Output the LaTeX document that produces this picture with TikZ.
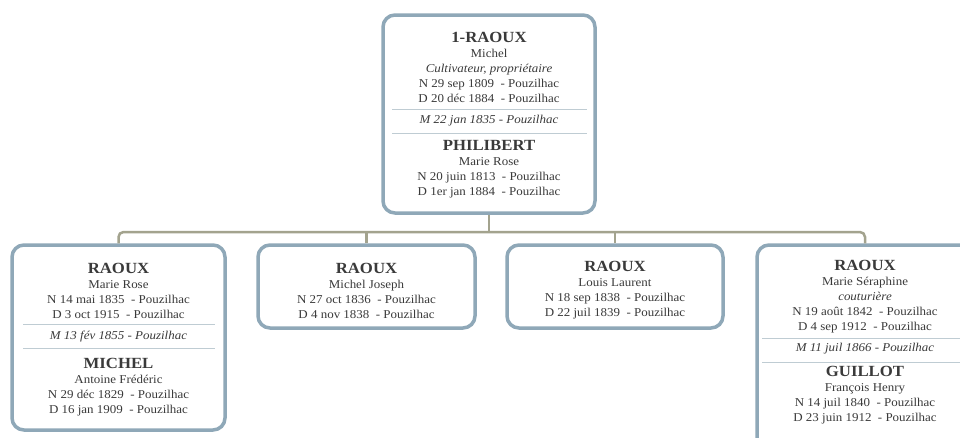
\documentclass[tikz,border=0pt]{standalone}
\usepackage{fontspec}
\setmainfont[FakeStretch=1.08]{Liberation Serif}
\definecolor{boxc}{HTML}{8FA8B8}
\definecolor{connc}{HTML}{A3A38E}
\definecolor{sepc}{HTML}{BFCCD3}
\definecolor{txtc}{HTML}{3A3A3A}
\newcommand{\surn}[1]{{\fontsize{15.5}{15}\selectfont\bfseries #1}}
\tikzset{
  famb/.style={draw=boxc, line width=3.5pt, rounded corners=12pt, fill=white, inner sep=0pt},
  conn/.style={draw=connc, line width=2.5pt, rounded corners=5pt},
  sepl/.style={draw=sepc, line width=0.8pt},
  txt/.style={text=txtc, align=center, inner sep=0pt, font=\fontsize{12}{15}\selectfont},
  marr/.style={text=txtc, inner sep=0pt, font=\fontsize{12}{15}\selectfont\itshape}
}
\begin{document}
\begin{tikzpicture}[x=1pt,y=-1pt]
\useasboundingbox (0,0) rectangle (960,437);
\clip (0,0) rectangle (960,437);
\fill[white] (0,0) rectangle (960,437);
% boxes
\node[famb, minimum width=212pt, minimum height=198pt] (top) at (489,114) {};
\node[famb, minimum width=213pt, minimum height=185pt] (b1) at (118.5,337.5) {};
\node[famb, minimum width=217pt, minimum height=83pt] (b2) at (366.5,286.5) {};
\node[famb, minimum width=216pt, minimum height=83pt] (b3) at (615,286.5) {};
\node[famb, minimum width=216pt, minimum height=220pt] (b4) at (865,355) {};
% connectors
\coordinate (bar) at (489,232);
\draw[conn] (top.south) -- (bar);
\draw[conn] (b1.north) |- (bar) -| (b4.north);
\draw[conn] (b2.north) -- (b2.north |- bar);
\draw[conn] (b3.north) -- (b3.north |- bar);
% top box
\node[txt] (t1) at (489,67) {\surn{1-RAOUX}\\Michel\\\textit{Cultivateur, propriétaire}\\N 29 sep 1809\ \ - Pouzilhac\\D 20 déc 1884\ \ - Pouzilhac};
\draw[sepl] (392,109) -- (587,109);
\node[marr] (tm) at (489,120.5) {M 22 jan 1835 - Pouzilhac};
\draw[sepl] (392,133) -- (587,133);
\node[txt] (t2) at (489,169.5) {\surn{PHILIBERT}\\Marie Rose\\N 20 juin 1813\ \ - Pouzilhac\\D 1er jan 1884\ \ - Pouzilhac};
% box 1
\node[txt] (a1) at (118.5,291) {\surn{RAOUX}\\Marie Rose\\N 14 mai 1835\ \ - Pouzilhac\\D 3 oct 1915\ \ - Pouzilhac};
\draw[sepl] (23,324) -- (215,324);
\node[marr] (am) at (118.5,337) {M 13 fév 1855 - Pouzilhac};
\draw[sepl] (23,348) -- (215,348);
\node[txt] (a2) at (118.5,387) {\surn{MICHEL}\\Antoine Frédéric\\N 29 déc 1829\ \ - Pouzilhac\\D 16 jan 1909\ \ - Pouzilhac};
% box 2
\node[txt] (c1) at (366.5,290.5) {\surn{RAOUX}\\Michel Joseph\\N 27 oct 1836\ \ - Pouzilhac\\D 4 nov 1838\ \ - Pouzilhac};
% box 3
\node[txt] (d1) at (615,290.5) {\surn{RAOUX}\\Louis Laurent\\N 18 sep 1838\ \ - Pouzilhac\\D 22 juil 1839\ \ - Pouzilhac};
% box 4
\node[txt] (e1) at (865,297) {\surn{RAOUX}\\Marie Séraphine\\\textit{couturière}\\N 19 août 1842\ \ - Pouzilhac\\D 4 sep 1912\ \ - Pouzilhac};
\draw[sepl] (762,338) -- (968,338);
\node[marr] (em) at (865,349) {M 11 juil 1866 - Pouzilhac};
\draw[sepl] (762,362) -- (968,362);
\node[txt] (e2) at (865,395.5) {\surn{GUILLOT}\\François Henry\\N 14 juil 1840\ \ - Pouzilhac\\D 23 juin 1912\ \ - Pouzilhac};
\end{tikzpicture}
\end{document}
